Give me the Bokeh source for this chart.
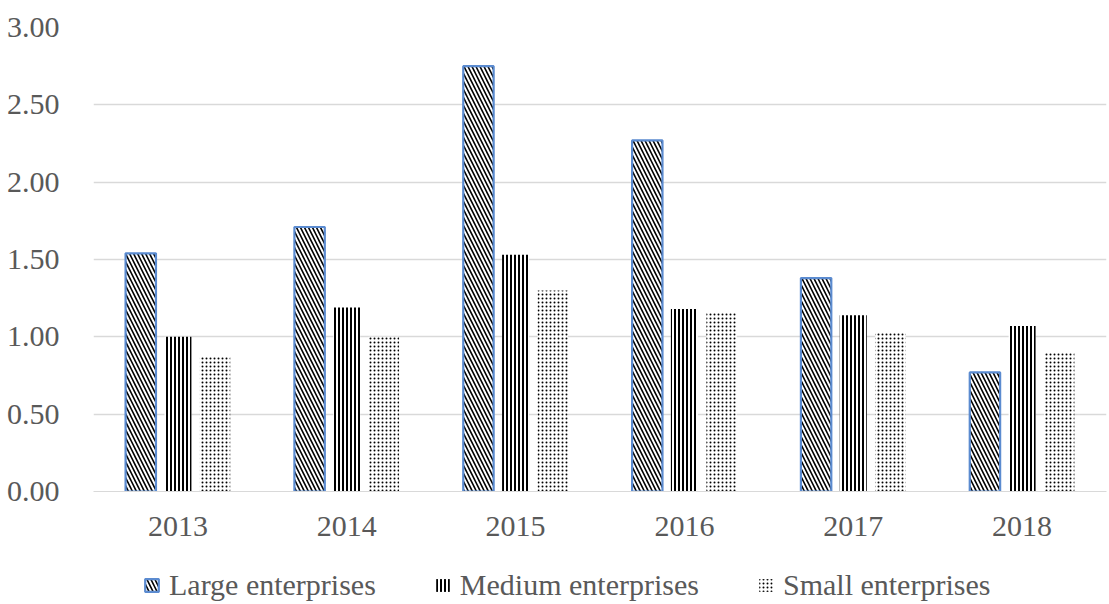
from bokeh.plotting import figure
from bokeh.layouts import column
from bokeh.models import ColumnDataSource, NumeralTickFormatter, FixedTicker, Legend, LegendItem
from bokeh.transform import dodge
from bokeh.embed import file_html
from bokeh.resources import INLINE

years = ["2013", "2014", "2015", "2016", "2017", "2018"]
large = [1.54, 1.71, 2.75, 2.27, 1.38, 0.77]
medium = [1.00, 1.19, 1.53, 1.18, 1.14, 1.07]
small = [0.87, 1.00, 1.30, 1.16, 1.03, 0.90]
y_ticks = [0.0, 0.5, 1.0, 1.5, 2.0, 2.5, 3.0]
series = ["Large enterprises", "Medium enterprises", "Small enterprises"]

src = ColumnDataSource(dict(years=years, large=large, medium=medium, small=small))

FONT = "Liberation Serif"
TXT = "#595959"

styles = [
    dict(fill_color="white", line_color="#5B8BD0", line_width=2.2,
         hatch_pattern="\\", hatch_color="black", hatch_scale=8, hatch_weight=1.6),
    dict(fill_color="white", line_color=None,
         hatch_pattern="|", hatch_color="black", hatch_scale=4, hatch_weight=2),
    dict(fill_color="white", line_color=None,
         hatch_pattern=".", hatch_color="black", hatch_scale=4, hatch_weight=2.6),
]

p = figure(x_range=years, y_range=(0, 3.0), width=1109, height=547,
           output_backend="svg", toolbar_location=None,
           min_border_left=93, min_border_right=3, min_border_top=27, min_border_bottom=56)

p.vbar(x=dodge("years", -0.22, range=p.x_range), top="large", width=0.18, source=src, **styles[0])
p.vbar(x=dodge("years", 0.0, range=p.x_range), top="medium", width=0.16, source=src, **styles[1])
p.vbar(x=dodge("years", 0.22, range=p.x_range), top="small", width=0.18, source=src, **styles[2])

p.outline_line_color = None
p.xgrid.grid_line_color = None
p.ygrid.grid_line_color = "#d9d9d9"
p.ygrid.grid_line_width = 1.3

p.yaxis.ticker = FixedTicker(ticks=y_ticks)
p.yaxis.formatter = NumeralTickFormatter(format="0.00")
for ax in (p.xaxis, p.yaxis):
    ax.axis_line_color = None
    ax.major_tick_line_color = None
    ax.minor_tick_line_color = None
    ax.major_label_text_font = FONT
    ax.major_label_text_font_size = "30px"
    ax.major_label_text_color = TXT
p.yaxis.major_label_standoff = 28
p.xaxis.major_label_standoff = 19
p.xaxis.axis_line_color = "#d9d9d9"
p.x_range.range_padding = 0.0

# legend strip (placeholder renderers of zero size, used only for legend swatches)
p2 = figure(width=1109, height=57, x_range=(0, 1), y_range=(0, 1),
            output_backend="svg", toolbar_location=None,
            x_axis_type=None, y_axis_type=None,
            min_border_left=0, min_border_right=0, min_border_top=0, min_border_bottom=0)
p2.outline_line_color = None
p2.grid.grid_line_color = None
dummies = [p2.vbar(x=[0.5], top=[0.0], bottom=[0.0], width=0.0, **st) for st in styles]

legend = Legend(items=[LegendItem(label=s, renderers=[r], index=0) for s, r in zip(series, dummies)],
                orientation="horizontal", location=(50, 2),
                label_text_font=FONT, label_text_font_size="30px", label_text_color=TXT,
                glyph_width=17, glyph_height=16, spacing=58, label_standoff=9,
                border_line_alpha=0, background_fill_alpha=0, padding=0, margin=0)
p2.add_layout(legend, "center")

open("out.html", "w").write(file_html(column(p, p2, spacing=0), INLINE))
